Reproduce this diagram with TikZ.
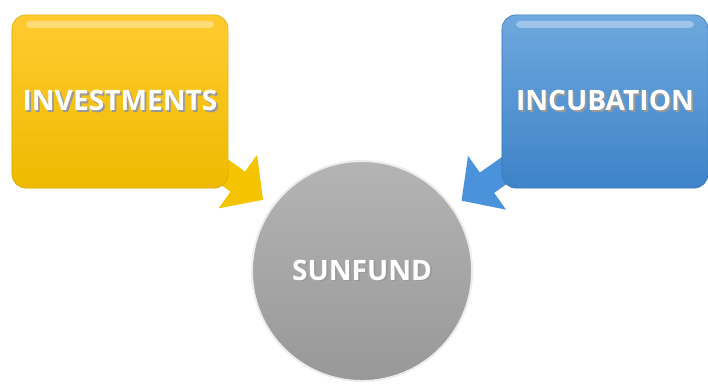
\documentclass[tikz,border=0pt]{standalone}
\usepackage{fontspec}
\setmainfont{Open Sans}
\usepackage{xcolor}
\usetikzlibrary{arrows.meta,calc}
\definecolor{goldtop}{RGB}{255,203,48}
\definecolor{goldbot}{RGB}{238,186,0}
\definecolor{goldarrow}{RGB}{245,196,0}
\definecolor{skytop}{RGB}{110,168,222}
\definecolor{skybot}{RGB}{62,131,200}
\definecolor{skyarrow}{RGB}{74,146,218}
\definecolor{fundtop}{RGB}{180,180,180}
\definecolor{fundbot}{RGB}{152,152,152}
% white caption with a soft grey drop
\newcommand{\embossed}[1]{%
  \makebox[0pt][l]{\hspace{1.3pt}\raisebox{-1.3pt}{\color{black!40}#1}}%
  {\color{white}#1}}
\tikzset{
    tile/.style 2 args={rounded corners=10pt, top color=#1, bottom color=#2,
                 draw=#2!90!black, line width=0.4pt,
                 font=\fontsize{20}{24}\selectfont\bfseries, align=center,
                 path picture={
                   \fill[white, opacity=0.35, rounded corners=3pt]
                     ($(path picture bounding box.north west)+(14,6)$) rectangle
                     ($(path picture bounding box.north east)+(-14,13)$);
                 }},
    hub/.style={circle, minimum size=5.5cm, top color=fundtop,
                bottom color=fundbot, draw=white!85!gray, line width=1.4pt,
                font=\fontsize{20}{24}\selectfont\bfseries},
}

\begin{document}
\begin{tikzpicture}[
    x=0.025cm, y=-0.025cm,
    feed/.style={line width=0.62cm, color=#1,
                 -{Triangle[width=1.6cm, length=0.78cm]}, shorten >=0.27cm},
]
    \useasboundingbox (0,0) rectangle (708,383);

    \node[hub] (fund) at (362,271) {\embossed{SUNFUND}};

    % arrows go first so the tiles hide their tails
    \coordinate (invtail) at (205,158);
    \coordinate (inctail) at (522,158);
    \draw[feed=goldarrow] (invtail) -- (fund);
    \draw[feed=skyarrow] (inctail) -- (fund);

    \node[tile={goldtop}{goldbot}, minimum width=5.4cm, minimum height=4.33cm]
        (inv) at (120,101.5) {\embossed{INVESTMENTS}};
    \node[tile={skytop}{skybot}, minimum width=5.15cm, minimum height=4.33cm]
        (inc) at (605,101.5) {\embossed{INCUBATION}};
\end{tikzpicture}
\end{document}
